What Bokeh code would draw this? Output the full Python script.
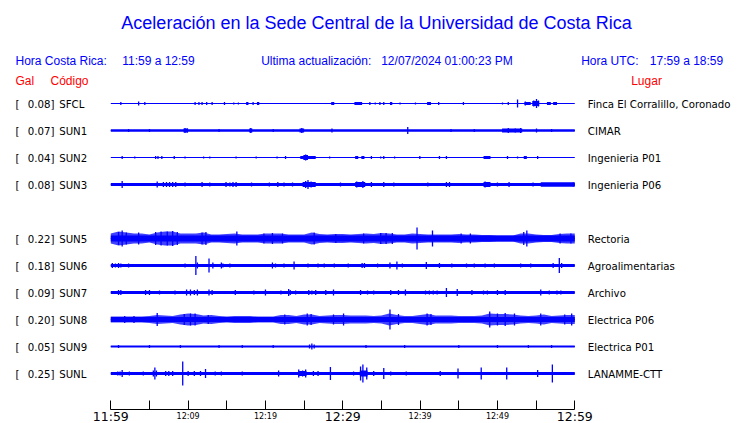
import numpy as np
from bokeh.plotting import figure
from bokeh.models import Range1d, FixedTicker, ColumnDataSource
from bokeh.core.properties import value
from bokeh.embed import file_html
from bokeh.resources import INLINE

# ---------------- data ----------------
stations = ["SFCL", "SUN1", "SUN2", "SUN3", "SUN5", "SUN6", "SUN7", "SUN8", "SUN9", "SUNL"]
peak_gal = [0.08, 0.07, 0.04, 0.08, 0.22, 0.18, 0.09, 0.20, 0.05, 0.25]
places = ["Finca El Corralillo, Coronado", "CIMAR", "Ingenieria P01", "Ingenieria P06",
          "Rectoria", "Agroalimentarias", "Archivo", "Electrica P06", "Electrica P01", "LANAMME-CTT"]
rows = [0, 1, 2, 3, 5, 6, 7, 8, 9, 10]          # SUN4 slot is empty
# background noise half-amplitude of each trace (display units)
base_amp = [0.5, 1.2, 0.5, 1.6, 3.0, 1.6, 1.5, 2.5, 1.1, 1.5]

minutes = list(range(0, 61))
# per-minute noise envelope for the two noisy stations
env_sun5 = [5, 7, 6, 5, 5, 4, 6, 7, 7, 5, 5, 5, 6, 4, 4, 4.5, 5, 4, 4, 4, 5, 5, 5, 4, 4, 4, 6, 4.5, 4, 4.5,
            4.5, 4, 4.5, 5, 4.5, 5.5, 5, 4, 4, 5, 4.5, 4, 4, 4, 4, 4.5, 4, 4, 3.5, 3.5, 3, 3, 3, 5, 5, 4, 3.5, 3.5, 4.5, 5, 5]
env_sun8 = [3, 3, 3, 3, 3, 3.5, 4.5, 4, 3.5, 5, 6, 5.5, 4, 4.5, 3.5, 3, 3.5, 3.5, 3.5, 3, 3, 3, 4.5, 4.5, 3.5, 5, 5, 3.5, 4, 4.5,
            4.5, 4, 4, 4, 3.5, 4, 6, 4.5, 3.5, 3.5, 4.5, 5.5, 4, 4, 4, 3.5, 3.5, 3.5, 4, 6, 5.5, 5.5, 5, 4, 3.5, 4, 5, 3.5, 4, 4.5, 4.5]
envelopes = {"SUN5": env_sun5, "SUN8": env_sun8}

# individual bursts: (minute, half-amplitude)
spikes = {
    "SFCL": [(1.3, 1.5), (3.6, 2), (4.4, 1.5), (10.9, 1.5), (11.4, 1.5), (11.8, 1.5), (12.4, 1.5), (13.1, 1.5),
             (14.7, 1.5), (15.9, 1), (16.5, 1), (18.4, 1.5), (33.5, 1.5), (34.2, 1), (34.8, 1.5), (35.3, 1.5),
             (37.4, 1), (39.4, 1), (42.4, 1.5), (45.6, 1.5), (50.65, 1), (51.4, 1.5), (52.6, 4), (53.6, 2),
             (54.7, 3), (55.05, 4.5), (55.3, 3)],
    "SUN1": [(2.3, 1.5), (5.0, 1.5), (9.6, 2.5), (9.9, 2), (14.0, 1.5), (18.1, 2.5), (21.0, 1.5), (24.7, 2.5),
             (28.6, 2), (38.4, 3.5), (44.0, 1.5), (47.0, 1.5), (51.4, 2.5), (52.3, 2), (53.0, 2.5), (55.05, 2),
             (57.0, 1.5)],
    "SUN2": [(1.47, 1.5), (3.1, 1), (5.8, 1.5), (6.1, 1.5), (6.6, 1.5), (8.2, 1.5), (9.6, 1), (12.0, 1),
             (12.8, 1), (16.2, 1), (18.8, 1), (21.5, 1), (22.6, 1.5), (25.2, 3), (28.3, 1), (33.7, 1.5),
             (34.9, 1), (35.3, 1.5), (36.7, 1), (39.96, 1.5), (42.5, 1.5), (43.4, 1.5), (51.3, 1.5), (52.6, 1),
             (55.2, 1.5)],
    "SUN3": [(1.47, 3.5), (6.0, 3), (6.8, 2.5), (7.2, 2.5), (7.6, 2.5), (8.0, 2.5), (8.4, 2.5), (9.6, 2),
             (11.8, 2.5), (12.8, 2), (14.9, 2.5), (15.4, 2), (15.8, 2.5), (16.2, 2.5), (18.2, 2), (20.5, 2),
             (21.6, 2.5), (22.4, 2), (23.5, 2), (25.2, 3.5), (25.5, 4.5), (25.9, 3), (29.7, 2), (31.8, 3),
             (32.6, 3.5), (33.7, 2.5), (35.3, 2.5), (36.6, 2), (41.0, 2), (43.4, 2.5), (43.8, 2.5), (48.4, 3),
             (48.9, 2.5), (50.0, 2), (51.5, 2.5), (54.6, 2), (59.8, 2)],
    "SUN5": [(1.0, 6.5), (1.47, 8), (2.0, 6), (3.6, 6), (5.8, 6.5), (6.5, 7), (7.3, 7), (8.0, 7.5), (8.6, 6.5),
             (11.8, 6), (12.3, 6.5), (16.3, 7), (19.8, 5), (20.9, 5.5), (22.2, 5), (26.3, 6), (29.1, 4.5),
             (32.7, 5), (34.9, 5.5), (35.6, 5.5), (36.4, 5.5), (39.6, 11), (41.6, 8), (45.3, 5), (46.5, 5),
             (53.4, 6.5), (53.8, 8), (58.1, 5), (59.5, 5)],
    "SUN6": [(0.2, 2.5), (0.6, 2), (1.0, 2.5), (1.3, 2), (2.3, 2), (8.6, 1.5), (9.6, 2), (11.0, 9.5), (11.2, 3),
             (12.7, 7), (13.2, 3), (14.3, 3), (14.5, 2), (15.4, 2), (20.9, 3), (21.3, 2), (22.4, 2), (23.7, 4),
             (25.5, 2), (26.8, 2), (27.6, 2), (28.9, 2), (30.7, 2), (32.5, 2.5), (32.8, 2.5), (34.5, 2), (36.1, 3),
             (37.0, 4), (37.7, 2), (40.8, 3.5), (42.5, 2.5), (44.1, 2), (46.0, 2), (47.0, 2), (48.4, 2), (49.6, 2),
             (53.0, 2), (54.3, 2), (57.2, 2.5), (58.0, 7.5), (58.3, 2.5)],
    "SUN7": [(1.0, 2.5), (1.3, 2.5), (4.5, 2.5), (5.0, 2.5), (6.3, 2), (8.3, 2), (9.8, 3), (10.3, 3), (10.8, 2.5),
             (11.2, 3), (12.7, 3), (13.1, 2.5), (16.1, 2.5), (18.5, 2), (20.0, 3), (22.0, 2), (23.0, 3.5),
             (23.2, 2.5), (23.9, 2), (25.6, 2.5), (26.0, 2), (26.5, 2.5), (27.8, 2.5), (28.8, 3), (32.3, 2.5),
             (33.2, 2), (34.0, 2), (36.2, 2.5), (37.2, 2.5), (38.1, 3), (40.7, 2), (41.2, 2), (41.7, 2), (42.2, 2),
             (43.4, 4.5), (44.8, 3.5), (46.7, 2.5), (48.2, 2), (48.7, 2), (50.0, 2.5), (51.0, 2.5), (55.6, 3),
             (56.7, 2), (57.7, 2), (58.2, 2)],
    "SUN8": [(1.8, 3.5), (3.0, 3.5), (6.0, 6.5), (9.5, 5.5), (10.3, 6), (10.9, 6), (12.6, 4.5), (22.5, 5),
             (25.4, 6), (25.9, 5.5), (28.8, 5), (30.1, 6), (36.1, 10), (37.2, 5.5), (40.9, 6), (41.4, 5.5),
             (49.0, 8), (50.0, 6), (51.0, 6.5), (52.2, 6), (55.6, 6), (58.7, 5), (59.6, 6)],
    "SUN9": [(1.0, 1.5), (5.0, 1.5), (9.0, 1.5), (14.0, 1.5), (17.0, 1.5), (21.0, 1.5), (25.7, 2), (26.0, 3),
             (26.3, 2), (33.0, 1.5), (38.0, 1.5), (45.0, 1.5), (50.0, 1.5), (54.0, 1.5), (57.0, 1.5)],
    "SUNL": [(0.9, 2), (1.2, 2), (1.47, 3.5), (2.4, 2), (4.2, 2), (5.5, 3), (5.7, 6), (5.9, 3), (7.1, 2.5),
             (7.5, 2.5), (8.0, 2.5), (9.3, 12), (10.0, 2.5), (10.8, 2.5), (11.6, 2.5), (12.25, 4.5), (13.5, 2),
             (14.3, 2), (17.0, 2), (21.7, 3), (24.3, 4), (24.8, 3), (25.2, 4), (26.2, 2.5), (26.8, 2.5),
             (28.4, 6.5), (31.4, 2), (32.3, 7), (32.6, 9), (33.1, 6), (34.0, 2.5), (35.3, 5.5), (36.2, 2),
             (38.2, 2), (42.6, 2.5), (44.9, 5), (47.9, 6), (51.2, 6), (55.2, 3.5), (57.1, 9), (59.8, 1.5)],
}
# wider bursts: (start minute, end minute, half-amplitude)
bands = {
    "SFCL": [(17.5, 17.8, 1.5), (18.9, 19.2, 1.5), (28.5, 28.9, 1.5), (31.5, 32.5, 1.5), (36.1, 36.4, 1.5),
             (40.9, 41.4, 1.5), (53.5, 54.3, 1.5), (54.5, 55.4, 2.5), (56.4, 56.9, 1.5), (57.2, 57.7, 1.5)],
    "SUN1": [(9.4, 10.0, 2), (17.9, 18.3, 2), (24.4, 25.0, 2), (50.6, 53.2, 2)],
    "SUN2": [(24.5, 26.5, 1.5), (24.9, 25.5, 2.5), (31.6, 32.0, 1.5), (32.4, 32.8, 1.5), (48.2, 49.1, 1.5),
             (53.4, 53.8, 1.5)],
    "SUN3": [(24.8, 26.5, 2.5), (31.6, 32.9, 2.5), (48.2, 49.1, 2.5), (55.6, 60.0, 2.3)],
    "SUNL": [(24.3, 25.3, 2.5), (32.2, 33.2, 3)],
}

tick_minutes = list(range(0, 61, 5))
small_tick_labels = {10: "12:09", 20: "12:19", 40: "12:39", 50: "12:49"}
big_tick_labels = {0: "11:59", 30: "12:29", 60: "12:59"}

title_text = "Aceleración en la Sede Central de la Universidad de Costa Rica"
hdr_local = ("Hora Costa Rica:", "11:59 a 12:59")
hdr_update = ("Ultima actualización:", "12/07/2024 01:00:23 PM")
hdr_utc = ("Hora UTC:", "17:59 a 18:59")

# ---------------- layout helpers ----------------
W, H = 740, 423
PX_PER_MIN = 7.733
X0_PX = 110.3
ROW_PX = 27.0
ROW0_PX = 103.0
AXIS_PX = 409.0
BLUE = "#0000ff"
RED = "#ff0000"


def mx(px):
    return (px - X0_PX) / PX_PER_MIN


def ky(py):
    return (py - ROW0_PX) / ROW_PX


def amp(a):
    return a / ROW_PX


p = figure(width=W, height=H, output_backend="svg", toolbar_location=None,
           x_range=Range1d(mx(0), mx(W)),
           y_range=Range1d(ky(H), ky(0)),
           y_axis_location=None, min_border_left=0, min_border_right=0,
           min_border_top=0, min_border_bottom=0)
p.xgrid.visible = False
p.ygrid.visible = False
p.outline_line_color = None
p.background_fill_color = "white"
p.border_fill_color = "white"

# ---------------- traces ----------------
for st, row, b in zip(stations, rows, base_amp):
    p.segment(x0=[0], y0=[row], x1=[60], y1=[row], line_color=BLUE, line_width=1)
    if st in envelopes:
        env = np.array(envelopes[st], dtype=float)
        p.varea(x=minutes, y1=row - env / ROW_PX, y2=row + env / ROW_PX, fill_color=BLUE, fill_alpha=0.75)
    if b > 0.5:
        p.quad(left=[0], right=[60], bottom=[row - amp(b)], top=[row + amp(b)],
               fill_color=BLUE, line_color=None)
    if st in bands:
        bl = bands[st]
        p.quad(left=[s for s, e, a in bl], right=[e for s, e, a in bl],
               bottom=[row - amp(a) for s, e, a in bl], top=[row + amp(a) for s, e, a in bl],
               fill_color=BLUE, line_color=None)
    sp = spikes[st]
    p.segment(x0=[m for m, a in sp], x1=[m for m, a in sp],
              y0=[row - amp(a) for m, a in sp], y1=[row + amp(a) for m, a in sp],
              line_color=BLUE, line_width=1.3)

# ---------------- station labels ----------------
lab_y = [r + amp(0.6) for r in rows]
src = ColumnDataSource(dict(
    xb=[mx(15)] * len(rows), xv=[mx(27.3)] * len(rows), xc=[mx(58.7)] * len(rows), xp=[mx(587.3)] * len(rows),
    y=lab_y, br=["["] * len(rows), val=[f"{v:.2f}]" for v in peak_gal], code=stations, place=places))
common = dict(source=src, y="y", text_font=value("DejaVu Sans"), text_font_size="10.2px",
              text_color="black", text_baseline="middle", text_align="left")
p.text(x="xb", text="br", **common)
p.text(x="xv", text="val", **common)
p.text(x="xc", text="code", **common)
p.text(x="xp", text="place", **common)

# ---------------- header texts ----------------
p.text(x=[mx(376)], y=[ky(22)], text=[title_text], text_font=value("Liberation Sans"),
       text_font_size="18px", text_color=BLUE, text_align="center", text_baseline="middle")
hx = [mx(15), mx(121.7), mx(260.7), mx(380.7), mx(580.7), mx(649.3)]
ht = [hdr_local[0], hdr_local[1], hdr_update[0], hdr_update[1], hdr_utc[0], hdr_utc[1]]
p.text(x=hx, y=[ky(60.7)] * len(hx), text=ht, text_font=value("Liberation Sans"),
       text_font_size="12px", text_color=BLUE, text_align="left", text_baseline="middle")
p.text(x=[mx(15), mx(50), mx(630.7)], y=[ky(80.5)] * 3, text=["Gal", "Código", "Lugar"],
       text_font=value("Liberation Sans"), text_font_size="12px", text_color=RED,
       text_align="left", text_baseline="middle")

# ---------------- time axis ----------------
ax = p.xaxis[0]
ax.fixed_location = ky(AXIS_PX)
ax.ticker = FixedTicker(ticks=tick_minutes)
ax.bounds = (0, 60)
ax.major_tick_in = 9
ax.major_tick_out = 0
ax.minor_tick_line_color = None
ax.axis_line_color = "black"
ax.major_tick_line_color = "black"
ax.major_label_text_font_size = "0px"
ax.major_label_overrides = {t: "" for t in tick_minutes}

small_t = list(small_tick_labels.keys())
p.text(x=small_t, y=[ky(416.2)] * len(small_t), text=[small_tick_labels[t] for t in small_t],
       text_font=value("DejaVu Sans"), text_font_size="8px", text_color="black",
       text_align="center", text_baseline="middle")
big_t = list(big_tick_labels.keys())
p.text(x=big_t, y=[ky(416.3)] * len(big_t), text=[big_tick_labels[t] for t in big_t],
       text_font=value("DejaVu Sans"), text_font_size="12.5px", text_color="black",
       text_align="center", text_baseline="middle")

open("out.html", "w").write(file_html(p, INLINE))
